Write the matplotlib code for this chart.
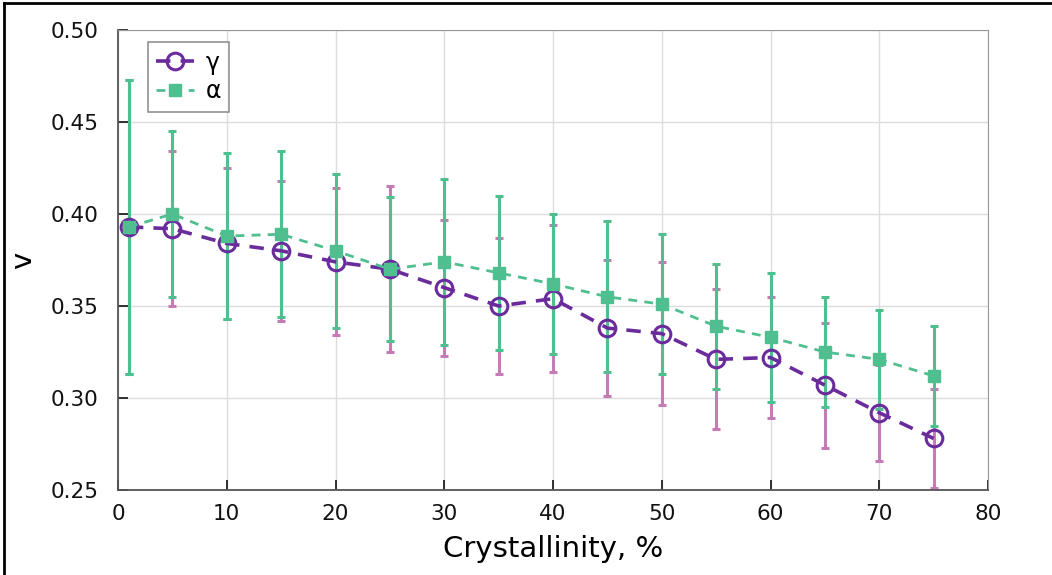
import matplotlib.pyplot as plt
from matplotlib.lines import Line2D

# crystallinity (%) and Poisson ratio for both phases
crystallinity = [1, 5, 10, 15, 20, 25, 30, 35, 40, 45, 50, 55, 60, 65, 70, 75]
v_gamma = [0.393, 0.392, 0.384, 0.380, 0.374, 0.370, 0.360, 0.350, 0.354, 0.338,
           0.335, 0.321, 0.322, 0.307, 0.292, 0.278]
err_gamma = [0.080, 0.042, 0.041, 0.038, 0.040, 0.045, 0.037, 0.037, 0.040, 0.037,
             0.039, 0.038, 0.033, 0.034, 0.026, 0.027]
v_alpha = [0.393, 0.400, 0.388, 0.389, 0.380, 0.370, 0.374, 0.368, 0.362, 0.355,
           0.351, 0.339, 0.333, 0.325, 0.321, 0.312]
err_alpha = [0.080, 0.045, 0.045, 0.045, 0.042, 0.039, 0.045, 0.042, 0.038, 0.041,
             0.038, 0.034, 0.035, 0.030, 0.027, 0.027]

purple = '#6a2c9c'
green = '#4fbf8f'
pink = '#c57bb6'

plt.rcParams['font.family'] = 'DejaVu Sans'

fig = plt.figure(figsize=(10.52, 5.75), dpi=100)
ax = fig.add_axes([0.1122, 0.1478, 0.827, 0.80])

ax.errorbar(crystallinity, v_gamma, yerr=err_gamma, fmt='none', ecolor=pink,
            elinewidth=2.2, capsize=3, capthick=2.2, zorder=2)
ax.errorbar(crystallinity, v_alpha, yerr=err_alpha, fmt='none', ecolor=green,
            elinewidth=2.2, capsize=3, capthick=2.2, zorder=3)
ax.plot(crystallinity, v_gamma, color=purple, lw=2.6, dashes=(4, 2.8),
        marker='o', ms=12, mfc='none', mec=purple, mew=2.2, zorder=4, label='γ')
ax.plot(crystallinity, v_alpha, color=green, lw=2.0, dashes=(3.2, 2.6),
        marker='s', ms=8.5, mfc=green, mec=green, zorder=5, label='α')

ax.set_xlim(0, 80)
ax.set_ylim(0.25, 0.50)
ax.set_xticks(range(0, 81, 10))
ax.set_yticks([0.25, 0.30, 0.35, 0.40, 0.45, 0.50])
ax.set_yticklabels(['0.25', '0.30', '0.35', '0.40', '0.45', '0.50'])
ax.grid(True, color='#dcdcdc', lw=1.0, zorder=0)
ax.set_axisbelow(True)
ax.tick_params(direction='in', length=7, width=1.2, labelsize=15.5,
               colors='#111111')
ax.tick_params(axis='y', pad=14)
ax.tick_params(axis='x', pad=10)
for side in ['top', 'right']:
    ax.spines[side].set_color('#999999')
for side in ['left', 'bottom']:
    ax.spines[side].set_color('#555555')
    ax.spines[side].set_linewidth(1.3)

ax.set_xlabel('Crystallinity, %', fontsize=21, labelpad=8)
ax.set_ylabel('v', fontsize=21, labelpad=10)

leg = ax.legend(loc='upper left', bbox_to_anchor=(0.034, 0.973), fontsize=17,
                frameon=True, fancybox=False, edgecolor='#777777',
                handlelength=1.6, handletextpad=0.5, borderpad=0.35,
                labelspacing=0.2, borderaxespad=0)
leg.get_frame().set_linewidth(1.2)

# outer frame lines along top and left
fig.add_artist(Line2D([0.004, 0.004], [0, 0.994], color='black', lw=2,
                      transform=fig.transFigure))
fig.add_artist(Line2D([0.004, 1], [0.994, 0.994], color='black', lw=2,
                      transform=fig.transFigure))

fig.savefig('out.png', dpi=100)
